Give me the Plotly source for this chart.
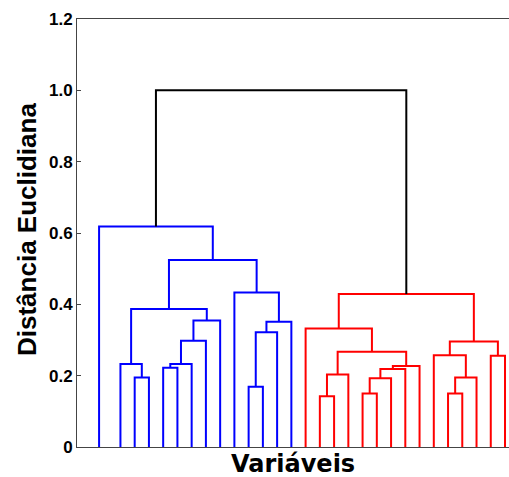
import plotly.graph_objects as go

# Hierarchical clustering of 29 variables (leaf order as plotted, left to right).
n_leaves = 29
# Leaf positions along the x axis (the first leaf sits a little apart).
leaf_x = [0.5, 2, 3, 4, 5, 6, 7, 8, 9, 10, 11, 12, 13, 14, 15,
          16, 17, 18, 19, 20, 21, 22, 23, 24, 25, 26, 27, 28, 29]

# Linkage: (left node, right node, height). Leaves are 0..28; each merge
# creates a new node numbered n_leaves + merge index.
left_nodes = [2, 4, 30, 1, 31, 33, 32, 10, 36, 37, 9, 35, 0,
              15, 42, 18, 44, 45, 46, 43, 14, 24, 50, 23, 27, 52, 49,
              41]
right_nodes = [3, 5, 6, 29, 7, 8, 34, 11, 12, 13, 38, 39, 40,
               16, 17, 19, 20, 21, 22, 47, 48, 25, 26, 51, 28, 53, 54,
               55]
heights = [0.195, 0.222, 0.233, 0.233, 0.298, 0.355, 0.387, 0.169, 0.322,
           0.351, 0.433, 0.524, 0.618,
           0.142, 0.203, 0.150, 0.193, 0.219, 0.227, 0.267, 0.332, 0.150,
           0.195, 0.257, 0.256, 0.296, 0.429,
           1.000]

# Clusters below the colour threshold get their own colour; the rest is black.
color_threshold = 0.7
cluster_colors = ["#0000ff", "#ff0000"]
above_color = "#000000"

y_ticks = [0, 0.2, 0.4, 0.6, 0.8, 1.0, 1.2]
y_tick_text = ["0", "0.2", "0.4", "0.6", "0.8", "1.0", "1.2"]

# Node positions: leaves on the axis, internal nodes centred over their children.
pos_x = {i: leaf_x[i] for i in range(n_leaves)}
pos_y = {i: 0.0 for i in range(n_leaves)}
for k, (a, b, h) in enumerate(zip(left_nodes, right_nodes, heights)):
    node = n_leaves + k
    pos_x[node] = (pos_x[a] + pos_x[b]) / 2
    pos_y[node] = h

# Assign colours: each top-most merge under the threshold starts a cluster.
children = {n_leaves + k: (a, b) for k, (a, b) in enumerate(zip(left_nodes, right_nodes))}
merge_color = {}


def paint(node, color):
    if node in children:
        merge_color[node] = color
        for c in children[node]:
            paint(c, color)


root = n_leaves + len(heights) - 1
cluster_idx = 0


def assign(node):
    global cluster_idx
    if node not in children:
        return
    if pos_y[node] < color_threshold:
        paint(node, cluster_colors[cluster_idx % len(cluster_colors)])
        cluster_idx += 1
    else:
        merge_color[node] = above_color
        for c in children[node]:
            assign(c)


assign(root)

segments = {}
for node, (a, b) in children.items():
    col = merge_color[node]
    xs, ys = segments.setdefault(col, ([], []))
    xs += [pos_x[a], pos_x[a], pos_x[b], pos_x[b], None]
    ys += [pos_y[a], pos_y[node], pos_y[node], pos_y[b], None]

fig = go.Figure()
for col, (xs, ys) in segments.items():
    fig.add_trace(go.Scatter(x=xs, y=ys, mode="lines",
                             line=dict(color=col, width=2),
                             hoverinfo="skip", showlegend=False))

axis_color = "#444444"
fig.update_layout(
    width=509, height=477,
    margin=dict(l=77, r=0, t=19, b=30),
    paper_bgcolor="white", plot_bgcolor="white",
    xaxis=dict(range=[-1.05, 29.28], showline=True, linecolor=axis_color,
               linewidth=1, mirror=True, showgrid=False, zeroline=False,
               showticklabels=False, ticks=""),
    yaxis=dict(range=[0, 1.2], tickvals=y_ticks, ticktext=y_tick_text,
               showline=True, linecolor=axis_color, linewidth=1,
               showgrid=False, zeroline=False, ticks="inside", ticklen=4,
               tickcolor=axis_color,
               tickfont=dict(family="Liberation Sans", size=17,
                             color="black", weight="bold")),
    annotations=[
        dict(text="Distância Euclidiana", xref="paper", yref="paper",
             x=0, y=0.5, xshift=-50, yshift=3, textangle=-90,
             showarrow=False, xanchor="center", yanchor="middle",
             font=dict(family="Liberation Sans", size=26, color="black",
                       weight="bold")),
        dict(text="Variáveis", xref="paper", yref="paper",
             x=0.5, y=0, yshift=-17, showarrow=False,
             xanchor="center", yanchor="middle",
             font=dict(family="DejaVu Sans", size=24, color="black",
                       weight="bold")),
    ],
)

fig.write_html("out.html")
